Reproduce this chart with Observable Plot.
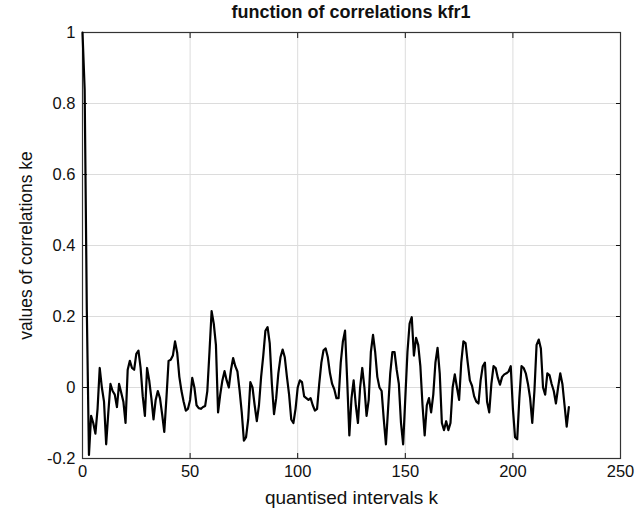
<!DOCTYPE html>
<html>
<head>
<meta charset="utf-8">
<script src="https://cdn.jsdelivr.net/npm/d3@7"></script>
<script src="https://cdn.jsdelivr.net/npm/@observablehq/plot@0.6"></script>
<style>
  html, body { margin: 0; padding: 0; background: #fff; }
  #title { font-family: "Liberation Sans", Arial, sans-serif; font-weight: bold; font-size: 18px;
           height: 22px; line-height: 24px; text-align: center; padding-left: 82px; padding-right: 17px; width: 538px; color: #111; }
</style>
</head>
<body>
<div id="title">function of correlations kfr1</div>
<div id="chart"></div>
<script>
const titleText = "function of correlations kfr1";
const xLabel = "quantised intervals k";
const yLabel = "values of correlations ke";
const xTicks = [0, 50, 100, 150, 200, 250];
const yTicks = [-0.2, 0, 0.2, 0.4, 0.6, 0.8, 1];
const values = [
  1.0, 0.84, 0.22, -0.19, -0.08, -0.10, -0.13, -0.06, 0.055, 0.0,
  -0.04, -0.16, -0.07, 0.01, -0.01, -0.02, -0.055, 0.01, -0.015, -0.04,
  -0.10, 0.05, 0.075, 0.055, 0.05, 0.095, 0.104, 0.055, -0.025, -0.08,
  0.055, 0.02, -0.03, -0.09, -0.035, -0.01, -0.03, -0.075, -0.125, -0.03,
  0.075, 0.078, 0.09, 0.13, 0.098, 0.03, -0.01, -0.04, -0.065, -0.06,
  -0.035, 0.027, 0.0, -0.05, -0.058, -0.06, -0.055, -0.052, -0.01, 0.10,
  0.215, 0.18, 0.12, -0.07, -0.02, 0.02, 0.046, 0.02, 0.0, 0.05,
  0.083, 0.06, 0.045, -0.008, -0.07, -0.15, -0.14, -0.09, 0.015, 0.0,
  -0.05, -0.095, -0.05, 0.03, 0.09, 0.16, 0.17, 0.125, 0.01, -0.075,
  -0.03, 0.04, 0.085, 0.107, 0.085, 0.03, -0.02, -0.09, -0.10, -0.06,
  0.0, 0.02, 0.015, -0.025, -0.03, -0.035, -0.03, -0.05, -0.065, -0.06,
  0.01, 0.07, 0.105, 0.11, 0.085, 0.04, 0.01, -0.005, -0.03, -0.03,
  0.07, 0.13, 0.16, 0.02, -0.135, -0.03, 0.02, -0.05, -0.10, 0.0,
  0.055, 0.0, -0.08, -0.035, 0.10, 0.148, 0.10, 0.03, 0.0, -0.01,
  -0.09, -0.16, -0.06, 0.04, 0.10, 0.10, 0.05, 0.01, -0.10, -0.16,
  -0.03, 0.10, 0.18, 0.198, 0.09, 0.14, 0.12, 0.06, -0.05, -0.135,
  -0.05, -0.03, -0.07, -0.02, 0.07, 0.112, 0.04, -0.10, -0.12, -0.095,
  -0.12, -0.10, 0.0, 0.037, 0.0, -0.035, 0.07, 0.13, 0.125, 0.07,
  0.02, 0.005, -0.025, -0.04, -0.045, 0.02, 0.06, 0.07, -0.04, -0.07,
  0.01, 0.06, 0.055, 0.027, 0.008, 0.03, 0.037, 0.04, 0.045, 0.06,
  -0.06, -0.14, -0.146, -0.03, 0.06, 0.055, 0.04, 0.01, -0.03, -0.10,
  -0.01, 0.12, 0.135, 0.11, 0.0, -0.02, 0.04, 0.035, 0.01, -0.01,
  -0.045, 0.0, 0.04, 0.01, -0.05, -0.11, -0.055
];
const data = values.map((v, i) => ({k: i, v}));
const fmt = d => (d < 0 ? "-" : "") + String(Math.abs(Math.round(d * 10) / 10));

const chart = Plot.plot({
  width: 637,
  height: 495,
  marginTop: 10,
  marginBottom: 59,
  marginLeft: 82,
  marginRight: 17,
  style: {fontFamily: "'Liberation Sans', Arial, sans-serif", fontSize: "16px", color: "#111", background: "#fff"},
  x: {domain: [0, 250]},
  y: {domain: [-0.2, 1]},
  marks: [
    Plot.gridX(xTicks, {stroke: "#dcdcdc", strokeOpacity: 1}),
    Plot.gridY(yTicks, {stroke: "#dcdcdc", strokeOpacity: 1}),
    Plot.axisX(xTicks, {anchor: "bottom", tickSize: -5, tickPadding: 12, tickFormat: d => String(d), label: null, fontSize: 16.5}),
    Plot.axisX(xTicks, {anchor: "top", tickSize: -5, tickFormat: () => "", label: null}),
    Plot.axisY(yTicks, {anchor: "left", tickSize: -5, tickPadding: 12, tickFormat: fmt, label: null, fontSize: 16.5}),
    Plot.axisY(yTicks, {anchor: "right", tickSize: -5, tickFormat: () => "", label: null}),
    Plot.frame({stroke: "#333", strokeWidth: 1.2}),
    Plot.lineY(data, {x: "k", y: "v", stroke: "#000", strokeWidth: 2.2}),
    Plot.text([xLabel], {frameAnchor: "bottom", dy: 45, fontSize: 19, fill: "#111"}),
    Plot.text([yLabel], {frameAnchor: "left", dx: -56, rotate: -90, textAnchor: "middle", fontSize: 17.5, fill: "#111"})
  ]
});
document.getElementById("chart").appendChild(chart);
</script>
</body>
</html>
